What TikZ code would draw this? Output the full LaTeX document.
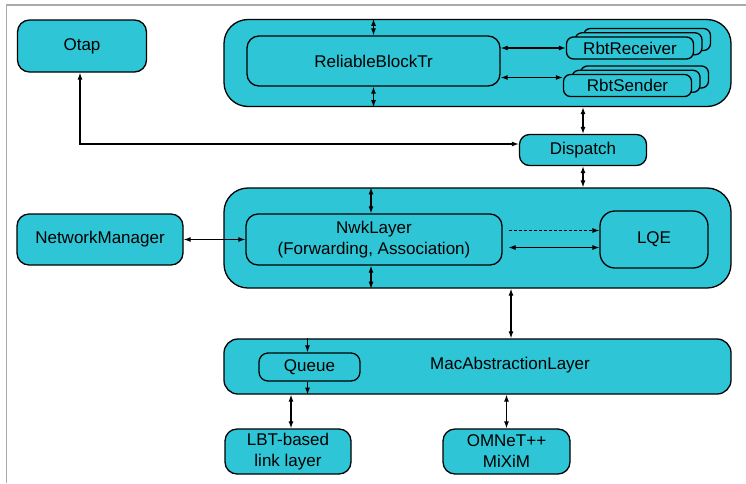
\documentclass[tikz,border=0pt]{standalone}
\usepackage{fontspec}
\setmainfont{Liberation Sans}
\usetikzlibrary{positioning,shapes,arrows.meta,shadows}
\definecolor{boxcyan}{RGB}{46,198,214}
\definecolor{framegray}{RGB}{170,170,170}

\begin{document}
\begin{tikzpicture}[
  x=1pt,y=-1pt,
  font=\fontsize{17}{21}\selectfont,
  box/.style={draw,line width=1.3pt,fill=boxcyan,rounded corners=12pt,align=center,inner sep=0pt},
  layer/.style={box,rounded corners=24pt,minimum width=507pt},
  stackbox/.style={box,rounded corners=7pt,
    copy shadow={shadow xshift=17pt,shadow yshift=8.5pt,fill=boxcyan,draw=black,line width=1.3pt},
    copy shadow={shadow xshift=8.5pt,shadow yshift=4.2pt,fill=boxcyan,draw=black,line width=1.3pt}},
  link/.style={{Latex[length=7pt,width=5pt]}-{Latex[length=7pt,width=5pt]},line width=1.1pt},
  onelink/.style={-{Latex[length=7pt,width=5pt]},line width=1.1pt}
]
\useasboundingbox (0,0) rectangle (746,483);
\draw[framegray,line width=1.4pt] (746,5) -- (6.5,5) -- (6.5,483);

% top row
\node[box,minimum width=129pt,minimum height=52pt] (otap) at (82,46) {Otap};
\node[layer,minimum height=87pt] (rbtlayer) at (477.5,63) {};
\node[box,minimum width=253pt,minimum height=50pt] (rbt) at (373.5,61) {ReliableBlockTr};
\node[stackbox,minimum width=127pt,minimum height=22pt] (rbtrecv) at (630,48) {RbtReceiver};
\node[stackbox,minimum width=128pt,minimum height=22pt] (rbtsend) at (627.5,85.5) {RbtSender};
\node[box,rounded corners=10pt,minimum width=127pt,minimum height=31pt] (dispatch) at (583,150) {Dispatch};
\coordinate (sendin) at ([yshift=8pt]rbtsend.west);
\coordinate (dispin) at ([yshift=6pt]dispatch.west);

% network layer
\node[layer,minimum height=100pt] (nwklayer) at (477.5,238) {};
\node[box,minimum width=256pt,minimum height=51pt] (nwk) at (374,239.5) {NwkLayer\\(Forwarding, Association)};
\node[box,rounded corners=15pt,minimum width=108pt,minimum height=57pt] (lqe) at (654,239.5) {LQE};
\node[box,minimum width=166pt,minimum height=51pt] (netmgr) at (100,239.5) {NetworkManager};

% mac layer
\node[box,rounded corners=14pt,minimum width=507pt,minimum height=55pt,
  label={[xshift=32.5pt,yshift=1pt]center:MacAbstractionLayer}] (maclayer) at (477.5,366.5) {};
\node[box,rounded corners=9pt,minimum width=101pt,minimum height=28pt] (queue) at (309.5,367) {Queue};
\node[box,minimum width=126pt,minimum height=45pt] (lbt) at (288,451.5) {LBT-based\\link layer};
\node[box,minimum width=127pt,minimum height=45pt] (omnet) at (506.5,451.5) {OMNeT++\\MiXiM};

% connectors
\draw[link] (rbt.north) -- (rbt.north |- rbtlayer.north);
\draw[link] (rbt.south) -- (rbt.south |- rbtlayer.south);
\draw[link] (rbt.east |- rbtrecv.west) -- (rbtrecv.west);
\draw[link] (rbt.east |- sendin) -- (sendin);
\draw[link] (dispatch.north) -- (dispatch.north |- rbtlayer.south);
\draw[link] ([xshift=-2pt]otap.south) |- (dispin);
\draw[link] (dispatch.south) -- (dispatch.south |- nwklayer.north);
\draw[link] ([xshift=-3pt]nwk.north) -- ([xshift=-3pt]nwk.north |- nwklayer.north);
\draw[link] ([xshift=-3pt]nwk.south) -- ([xshift=-3pt]nwk.south |- nwklayer.south);
\draw[link] (netmgr.east) -- (nwk.west);
\draw[onelink,dash pattern=on 3pt off 2pt,line width=0.8pt] ([xshift=6pt,yshift=9pt]nwk.east) -- ([yshift=9pt]lqe.west);
\draw[link,line width=0.8pt] ([xshift=6pt,yshift=-8pt]nwk.east) -- ([yshift=-8pt]lqe.west);
\draw[link] ([xshift=33.5pt]nwklayer.south) -- ([xshift=33.5pt]maclayer.north);
\draw[onelink] ([xshift=-2pt]queue.north |- maclayer.north) -- ([xshift=-2pt]queue.north);
\draw[onelink] ([xshift=-2pt]queue.south) -- ([xshift=-2pt]queue.south |- maclayer.south);
\draw[link] ([xshift=3pt]lbt.north) -- ([xshift=3pt]lbt.north |- maclayer.south);
\draw[link] (omnet.north) -- (omnet.north |- maclayer.south);
\end{tikzpicture}
\end{document}
